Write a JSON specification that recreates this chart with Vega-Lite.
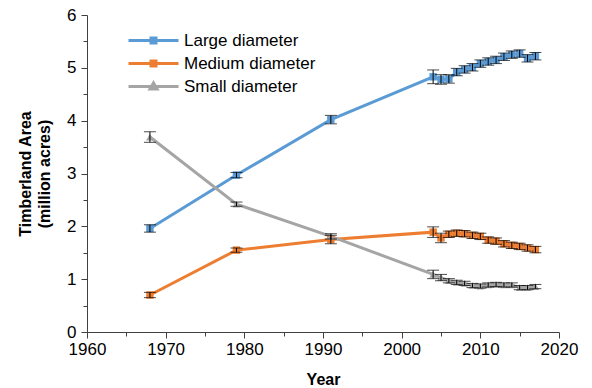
{
  "$schema": "https://vega.github.io/schema/vega-lite/v6.json",
  "autosize": "none",
  "width": 472,
  "height": 317,
  "padding": {"left": 87, "top": 15, "right": 33, "bottom": 56},
  "background": "white",
  "config": {
    "font": "Liberation Sans",
    "view": {"stroke": null},
    "axis": {
      "grid": false,
      "domainColor": "#404040",
      "tickColor": "#404040",
      "labelColor": "#000000",
      "titleColor": "#000000",
      "labelFont": "Liberation Sans",
      "titleFont": "Liberation Sans",
      "labelFontSize": 17,
      "titleFontSize": 16,
      "titleFontWeight": "bold"
    }
  },
  "data": {
    "values": [
      {"year": 1968, "series": "Large diameter", "value": 1.96, "lo": 1.89, "hi": 2.03},
      {"year": 1979, "series": "Large diameter", "value": 2.97, "lo": 2.92, "hi": 3.02},
      {"year": 1991, "series": "Large diameter", "value": 4.02, "lo": 3.94, "hi": 4.1},
      {"year": 2004, "series": "Large diameter", "value": 4.83, "lo": 4.7, "hi": 4.96},
      {"year": 2005, "series": "Large diameter", "value": 4.78, "lo": 4.69, "hi": 4.87},
      {"year": 2006, "series": "Large diameter", "value": 4.79, "lo": 4.71, "hi": 4.87},
      {"year": 2007, "series": "Large diameter", "value": 4.92, "lo": 4.85, "hi": 4.99},
      {"year": 2008, "series": "Large diameter", "value": 4.97, "lo": 4.9, "hi": 5.04},
      {"year": 2009, "series": "Large diameter", "value": 5.01, "lo": 4.94, "hi": 5.08},
      {"year": 2010, "series": "Large diameter", "value": 5.08, "lo": 5.01, "hi": 5.15},
      {"year": 2011, "series": "Large diameter", "value": 5.12, "lo": 5.05, "hi": 5.19},
      {"year": 2012, "series": "Large diameter", "value": 5.15, "lo": 5.08, "hi": 5.22},
      {"year": 2013, "series": "Large diameter", "value": 5.21, "lo": 5.14, "hi": 5.28},
      {"year": 2014, "series": "Large diameter", "value": 5.25, "lo": 5.18, "hi": 5.32},
      {"year": 2015, "series": "Large diameter", "value": 5.27, "lo": 5.2, "hi": 5.34},
      {"year": 2016, "series": "Large diameter", "value": 5.18, "lo": 5.11, "hi": 5.25},
      {"year": 2017, "series": "Large diameter", "value": 5.22, "lo": 5.15, "hi": 5.29},
      {"year": 1968, "series": "Medium diameter", "value": 0.7, "lo": 0.65, "hi": 0.75},
      {"year": 1979, "series": "Medium diameter", "value": 1.55, "lo": 1.51, "hi": 1.59},
      {"year": 1991, "series": "Medium diameter", "value": 1.75, "lo": 1.67, "hi": 1.83},
      {"year": 2004, "series": "Medium diameter", "value": 1.89, "lo": 1.79, "hi": 1.99},
      {"year": 2005, "series": "Medium diameter", "value": 1.78, "lo": 1.69, "hi": 1.87},
      {"year": 2006, "series": "Medium diameter", "value": 1.85, "lo": 1.79, "hi": 1.91},
      {"year": 2007, "series": "Medium diameter", "value": 1.87, "lo": 1.81, "hi": 1.93},
      {"year": 2008, "series": "Medium diameter", "value": 1.86, "lo": 1.8, "hi": 1.92},
      {"year": 2009, "series": "Medium diameter", "value": 1.83, "lo": 1.77, "hi": 1.89},
      {"year": 2010, "series": "Medium diameter", "value": 1.81, "lo": 1.75, "hi": 1.87},
      {"year": 2011, "series": "Medium diameter", "value": 1.74, "lo": 1.68, "hi": 1.8},
      {"year": 2012, "series": "Medium diameter", "value": 1.72, "lo": 1.66, "hi": 1.78},
      {"year": 2013, "series": "Medium diameter", "value": 1.67, "lo": 1.61, "hi": 1.73},
      {"year": 2014, "series": "Medium diameter", "value": 1.64, "lo": 1.58, "hi": 1.7},
      {"year": 2015, "series": "Medium diameter", "value": 1.62, "lo": 1.56, "hi": 1.68},
      {"year": 2016, "series": "Medium diameter", "value": 1.59, "lo": 1.53, "hi": 1.65},
      {"year": 2017, "series": "Medium diameter", "value": 1.56, "lo": 1.5, "hi": 1.62},
      {"year": 1968, "series": "Small diameter", "value": 3.69, "lo": 3.59, "hi": 3.79},
      {"year": 1979, "series": "Small diameter", "value": 2.42, "lo": 2.38, "hi": 2.46},
      {"year": 1991, "series": "Small diameter", "value": 1.81, "lo": 1.76, "hi": 1.86},
      {"year": 2004, "series": "Small diameter", "value": 1.09, "lo": 1.01, "hi": 1.17},
      {"year": 2005, "series": "Small diameter", "value": 1.03, "lo": 0.97, "hi": 1.09},
      {"year": 2006, "series": "Small diameter", "value": 0.97, "lo": 0.93, "hi": 1.01},
      {"year": 2007, "series": "Small diameter", "value": 0.94, "lo": 0.9, "hi": 0.98},
      {"year": 2008, "series": "Small diameter", "value": 0.92, "lo": 0.88, "hi": 0.96},
      {"year": 2009, "series": "Small diameter", "value": 0.88, "lo": 0.84, "hi": 0.92},
      {"year": 2010, "series": "Small diameter", "value": 0.87, "lo": 0.83, "hi": 0.91},
      {"year": 2011, "series": "Small diameter", "value": 0.89, "lo": 0.85, "hi": 0.93},
      {"year": 2012, "series": "Small diameter", "value": 0.9, "lo": 0.86, "hi": 0.94},
      {"year": 2013, "series": "Small diameter", "value": 0.89, "lo": 0.85, "hi": 0.93},
      {"year": 2014, "series": "Small diameter", "value": 0.89, "lo": 0.85, "hi": 0.93},
      {"year": 2015, "series": "Small diameter", "value": 0.84, "lo": 0.8, "hi": 0.88},
      {"year": 2016, "series": "Small diameter", "value": 0.84, "lo": 0.8, "hi": 0.88},
      {"year": 2017, "series": "Small diameter", "value": 0.86, "lo": 0.82, "hi": 0.9}
    ]
  },
  "encoding": {
    "x": {
      "field": "year",
      "type": "quantitative",
      "scale": {"domain": [1960, 2020], "nice": false, "zero": false},
      "axis": {
        "title": "Year",
        "values": [1960, 1965, 1970, 1975, 1980, 1985, 1990, 1995, 2000, 2005, 2010, 2015, 2020],
        "format": "d",
        "labelExpr": "datum.value % 10 === 0 ? datum.label : ''",
        "tickSize": {"condition": {"test": "datum.value % 10 === 0", "value": 6}, "value": 4},
        "labelPadding": 3,
        "labelFlush": false,
        "titlePadding": 14
      }
    },
    "y": {
      "field": "value",
      "type": "quantitative",
      "scale": {"domain": [0, 6], "nice": false},
      "axis": {
        "title": ["Timberland Area", "(million acres)"],
        "values": [0, 0.5, 1, 1.5, 2, 2.5, 3, 3.5, 4, 4.5, 5, 5.5, 6],
        "labelExpr": "datum.value % 1 === 0 ? format(datum.value, 'd') : ''",
        "tickSize": {"condition": {"test": "datum.value % 1 === 0", "value": 6}, "value": 4},
        "labelPadding": 5,
        "labelFlush": false,
        "titlePadding": 14,
        "titleLineHeight": 19
      }
    },
    "color": {
      "field": "series",
      "type": "nominal",
      "scale": {
        "domain": ["Large diameter", "Medium diameter", "Small diameter"],
        "range": ["#5B9BD5", "#ED7D31", "#A5A5A5"]
      },
      "legend": null
    }
  },
  "layer": [
    {
      "mark": {"type": "line", "strokeWidth": 3},
      "encoding": {
        "detail": {"field": "series"},
        "color": {
          "field": "series",
          "type": "nominal",
          "legend": {
            "orient": "none",
            "legendX": 58,
            "legendY": 17,
            "title": null,
            "padding": 0,
            "symbolSize": 100,
            "symbolStrokeWidth": 3,
            "labelOffset": 22,
            "labelFontSize": 17,
            "labelFont": "Liberation Sans",
            "labelColor": "#000000",
            "rowPadding": 5,
            "labelLimit": 300,
            "encode": {
              "symbols": {
                "update": {
                  "shape": {"signal": "datum.value === 'Small diameter' ? 'M-5,0H5M0,-0.7L0.7,0.5L-0.7,0.5Z' : 'M-5,0H5M-0.5,-0.5H0.5V0.5H-0.5Z'"},
                  "fill": {"signal": "scale('color', datum.value)"},
                  "stroke": {"signal": "scale('color', datum.value)"},
                  "strokeWidth": {"value": 3},
                  "opacity": {"value": 1}
                }
              }
            }
          }
        }
      }
    },
    {
      "transform": [{"filter": "datum.series !== 'Small diameter'"}],
      "mark": {"type": "point", "filled": true, "opacity": 1, "size": 55, "shape": "square"}
    },
    {
      "transform": [{"filter": "datum.series === 'Small diameter'"}],
      "mark": {"type": "point", "filled": true, "opacity": 1, "size": 60, "shape": "triangle-up"}
    },
    {
      "mark": {"type": "rule", "color": "#000000", "strokeWidth": 1},
      "encoding": {
        "y": {"field": "lo", "type": "quantitative"},
        "y2": {"field": "hi"},
        "color": {"value": "#000000"}
      }
    },
    {
      "mark": {"type": "tick", "orient": "horizontal", "color": "#000000", "thickness": 1, "size": 12},
      "encoding": {
        "y": {"field": "lo", "type": "quantitative"},
        "color": {"value": "#000000"}
      }
    },
    {
      "mark": {"type": "tick", "orient": "horizontal", "color": "#000000", "thickness": 1, "size": 12},
      "encoding": {
        "y": {"field": "hi", "type": "quantitative"},
        "color": {"value": "#000000"}
      }
    }
  ]
}
